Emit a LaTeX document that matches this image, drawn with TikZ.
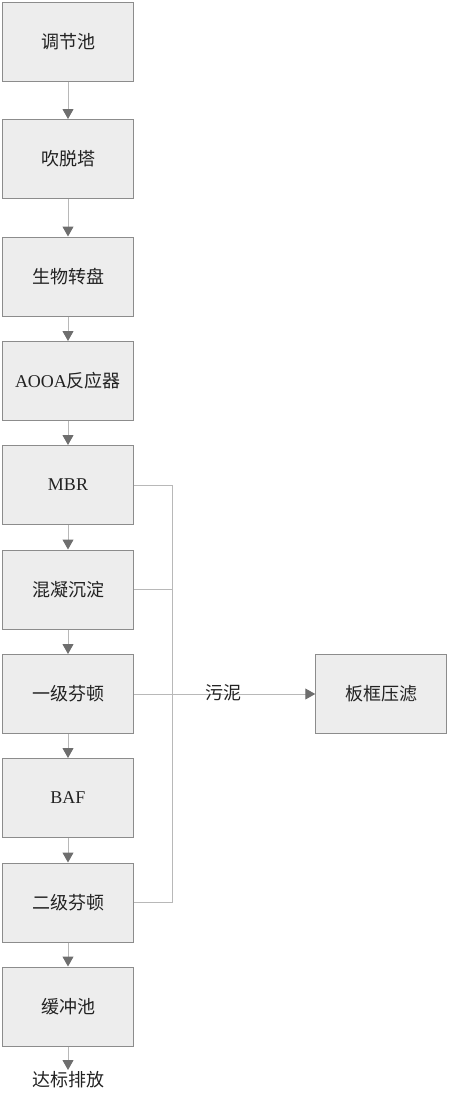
\documentclass[tikz,border=0pt]{standalone}
\usepackage{fontspec}
\setmainfont{Liberation Serif}
\newfontfamily\cjk{Noto Sans CJK SC}
\usetikzlibrary{arrows.meta}
\definecolor{boxfill}{HTML}{EDEDED}
\definecolor{boxdraw}{HTML}{8C8C8C}
\definecolor{linec}{HTML}{B8B8B8}
\definecolor{tipc}{HTML}{6E6E6E}
\definecolor{txt}{HTML}{222222}
\begin{document}
\begin{tikzpicture}[x=1pt,y=-1pt,
  procbox/.style={draw=boxdraw,fill=boxfill,line width=1pt,minimum width=130.5pt,minimum height=79pt,inner sep=0pt,text=txt,font=\fontsize{18}{21}\selectfont\cjk},
  flow/.style={draw=linec,line width=1pt,-{Triangle[width=11pt,length=10pt,color=tipc]}},
  pipe/.style={draw=linec,line width=1pt}]
\useasboundingbox (0,0) rectangle (450,1100);
\node[procbox] (b1) at (68,41.5) {调节池};
\node[procbox] (b2) at (68,159) {吹脱塔};
\node[procbox] (b3) at (68,276.5) {生物转盘};
\node[procbox] (b4) at (68,381) {{\rmfamily AOOA}反应器};
\node[procbox] (b5) at (68,485) {\rmfamily MBR};
\node[procbox] (b6) at (68,589.5) {混凝沉淀};
\node[procbox] (b7) at (68,694) {一级芬顿};
\node[procbox] (b8) at (68,798) {\rmfamily BAF};
\node[procbox] (b9) at (68,902.5) {二级芬顿};
\node[procbox] (b10) at (68,1006.5) {缓冲池};
\node[procbox] (press) at (381,694) {板框压滤};
\node[anchor=north,inner sep=1pt,text=txt,font=\fontsize{18}{21}\selectfont\cjk] (out) at (68,1070) {达标排放};
\foreach \a/\b in {b1/b2,b2/b3,b3/b4,b4/b5,b5/b6,b6/b7,b7/b8,b8/b9,b9/b10,b10/out}
  \draw[flow] (\a.south) -- (\b.north);
\coordinate (j1) at (172,485);
\coordinate (j2) at (172,589.5);
\coordinate (j3) at (172,902.5);
\draw[pipe] (b5.east) -- (j1) -- (j3) -- (b9.east);
\draw[pipe] (b6.east) -- (j2);
\draw[flow] (b7.east) -- (press.west);
\node[text=txt,font=\fontsize{18}{21}\selectfont\cjk,inner sep=0pt] (lab) at (223,693) {污泥};
\end{tikzpicture}
\end{document}
